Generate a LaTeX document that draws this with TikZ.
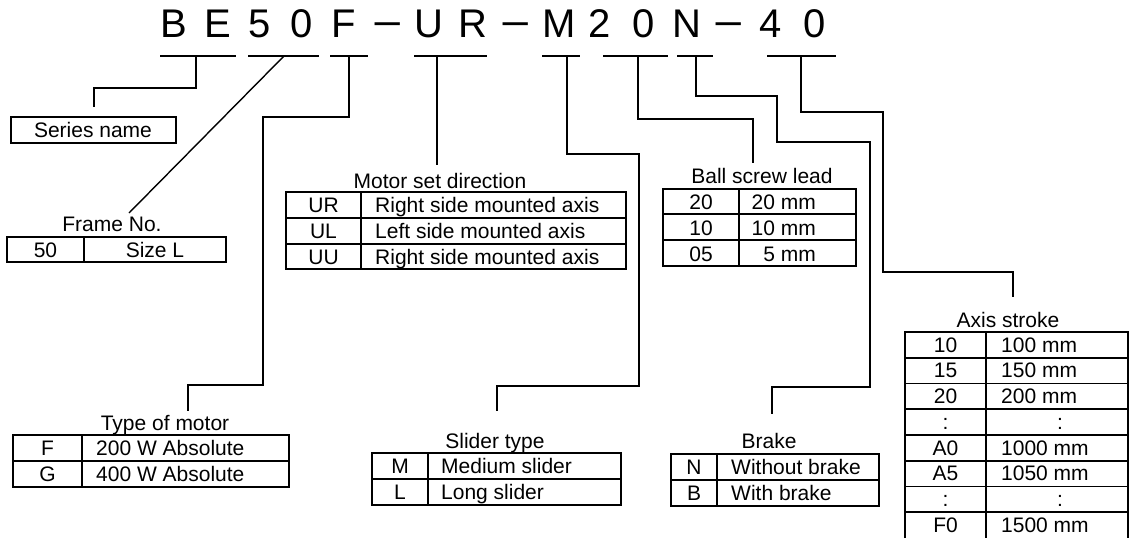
\documentclass[tikz,border=0pt]{standalone}
\usepackage{fontspec}
\setmainfont{Liberation Sans}
\begin{document}
\begin{tikzpicture}[x=1pt,y=-1pt,
 conn/.style={line width=1.4pt},
 tbl/.style={line width=1.8pt},
 ul/.style={line width=1.6pt},
 txt/.style={font=\fontsize{21}{25}\selectfont,inner sep=0pt,anchor=base},
 txtl/.style={txt,anchor=base west},
 txtr/.style={txt,anchor=base east},
 ttl/.style={font=\fontsize{40}{48}\selectfont,inner sep=0pt,anchor=base}]
\useasboundingbox (0,0) rectangle (1134,538);

% ---- title ----
\node[ttl] (t1) at (174,37) {B};
\node[ttl] (t2) at (217.5,37) {E};
\node[ttl] (t3) at (259.5,37) {5};
\node[ttl] (t4) at (301.5,37) {0};
\node[ttl] (t5) at (344,37) {F};
\node[ttl] (t6) at (388,37) {\scalebox{1.3}[1]{−}};
\node[ttl] (t7) at (428.5,37) {U};
\node[ttl] (t8) at (473,37) {R};
\node[ttl] (t9) at (516,37) {\scalebox{1.3}[1]{−}};
\node[ttl] (t10) at (559.5,37) {M};
\node[ttl] (t11) at (600,37) {2};
\node[ttl] (t12) at (643.5,37) {0};
\node[ttl] (t13) at (686.5,37) {N};
\node[ttl] (t14) at (729,37) {\scalebox{1.3}[1]{−}};
\node[ttl] (t15) at (771,37) {4};
\node[ttl] (t16) at (814.5,37) {0};

% ---- underlines ----
\draw[ul] (160,56) -- (236,56);
\draw[ul] (248,56) -- (319,56);
\draw[ul] (330,56) -- (368,56);
\draw[ul] (414,56) -- (487,56);
\draw[ul] (542,56) -- (580,56);
\draw[ul] (603,56) -- (668,56);
\draw[ul] (677,56) -- (713,56);
\draw[ul] (767,56) -- (836,56);

% ---- connector coordinates ----
\coordinate (c1) at (196,56);
\coordinate (c2) at (284,56);
\coordinate (c3) at (349,56);
\coordinate (c4) at (437,56);
\coordinate (c5) at (567,56);
\coordinate (c6) at (638,56);
\coordinate (c7) at (696,56);
\coordinate (c8) at (801,56);
\coordinate (e1) at (94,107);
\coordinate (e2) at (129,213);
\coordinate (e3) at (188,411);
\coordinate (e4) at (437,165);
\coordinate (e5) at (497,411);
\coordinate (e6) at (753,163);
\coordinate (e7) at (772,414);
\coordinate (e8) at (1013,297);

\draw[conn] (c1) -- (196,88) -- (94,88) -- (e1);
\draw[conn] (c2) -- (e2);
\draw[conn] (c3) -- (349,117) -- (263,117) -- (263,385) -- (188,385) -- (e3);
\draw[conn] (c4) -- (e4);
\draw[conn] (c5) -- (567,154) -- (639,154) -- (639,386) -- (497,386) -- (e5);
\draw[conn] (c6) -- (638,119) -- (753,119) -- (e6);
\draw[conn] (c7) -- (696,96) -- (777,96) -- (777,142) -- (870,142) -- (870,387) -- (772,387) -- (e7);
\draw[conn] (c8) -- (801,112) -- (883,112) -- (883,272) -- (1013,272) -- (e8);

% ---- Series name ----
\draw[tbl] (11,117) rectangle (176,143);
\node[txt] (series) at (93,137) {Series name};

% ---- Frame No. ----
\node[txt] (framelbl) at (112,231) {Frame No.};
\draw[tbl] (7,237) rectangle (226,262);
\draw[tbl] (84,237) -- (84,262);
\node[txt] (f50) at (45.5,257) {50};
\node[txt] (fsize) at (155,257) {Size L};

% ---- Motor set direction ----
\node[txt] (motorlbl) at (440,188) {Motor set direction};
\draw[tbl] (286,192) rectangle (626,269);
\draw[tbl] (286,218) -- (626,218);
\draw[tbl] (286,244) -- (626,244);
\draw[tbl] (361,192) -- (361,269);
\node[txt] (mUR) at (323.5,212) {UR};
\node[txtl] (mURt) at (375,212) {Right side mounted axis};
\node[txt] (mUL) at (323.5,238) {UL};
\node[txtl] (mULt) at (375,238) {Left side mounted axis};
\node[txt] (mUU) at (323.5,264) {UU};
\node[txtl] (mUUt) at (375,264) {Right side mounted axis};

% ---- Ball screw lead ----
\node[txt] (balllbl) at (762,183) {Ball screw lead};
\draw[tbl] (663,189) rectangle (856,266);
\draw[tbl] (663,214) -- (856,214);
\draw[tbl] (663,240) -- (856,240);
\draw[tbl] (739,189) -- (739,266);
\node[txt] (b20) at (701,209) {20};
\node[txtr] (b20t) at (816,209) {20 mm};
\node[txt] (b10) at (701,235) {10};
\node[txtr] (b10t) at (816,235) {10 mm};
\node[txt] (b05) at (701,261) {05};
\node[txtr] (b05t) at (816,261) {5 mm};

% ---- Axis stroke ----
\node[txt] (axislbl) at (1008,327) {Axis stroke};
\draw[tbl] (905,538) -- (905,332) -- (1128,332) -- (1128,538);
\foreach \yy in {357.75,383.5,409.25,435,460.75,486.5,512.25}
  \draw[tbl] (905,\yy) -- (1128,\yy);
\draw[tbl] (986,332) -- (986,538);
\node[txt] (a1) at (945.5,352) {10};
\node[txtl] (a1t) at (1001,352) {100 mm};
\node[txt] (a2) at (945.5,377.75) {15};
\node[txtl] (a2t) at (1001,377.75) {150 mm};
\node[txt] (a3) at (945.5,403.5) {20};
\node[txtl] (a3t) at (1001,403.5) {200 mm};
\node[txt] (a4) at (945.5,429.25) {:};
\node[txt] (a4t) at (1060,429.25) {:};
\node[txt] (a5) at (945.5,455) {A0};
\node[txtl] (a5t) at (1001,455) {1000 mm};
\node[txt] (a6) at (945.5,480.75) {A5};
\node[txtl] (a6t) at (1001,480.75) {1050 mm};
\node[txt] (a7) at (945.5,506.5) {:};
\node[txt] (a7t) at (1060,506.5) {:};
\node[txt] (a8) at (945.5,532.25) {F0};
\node[txtl] (a8t) at (1001,532.25) {1500 mm};

% ---- Type of motor ----
\node[txt] (typelbl) at (165,430) {Type of motor};
\draw[tbl] (13,435) rectangle (289,487);
\draw[tbl] (13,461) -- (289,461);
\draw[tbl] (82,435) -- (82,487);
\node[txt] (tF) at (47.5,455) {F};
\node[txtl] (tFt) at (96,455) {200 W Absolute};
\node[txt] (tG) at (47.5,481) {G};
\node[txtl] (tGt) at (96,481) {400 W Absolute};

% ---- Slider type ----
\node[txt] (sliderlbl) at (495,448) {Slider type};
\draw[tbl] (372,453) rectangle (621,505);
\draw[tbl] (372,479) -- (621,479);
\draw[tbl] (428,453) -- (428,505);
\node[txt] (sM) at (400,473) {M};
\node[txtl] (sMt) at (441,473) {Medium slider};
\node[txt] (sL) at (400,499) {L};
\node[txtl] (sLt) at (441,499) {Long slider};

% ---- Brake ----
\node[txt] (brakelbl) at (769,448) {Brake};
\draw[tbl] (671,454) rectangle (879,506);
\draw[tbl] (671,480) -- (879,480);
\draw[tbl] (717,454) -- (717,506);
\node[txt] (kN) at (694,474) {N};
\node[txtl] (kNt) at (731,474) {Without brake};
\node[txt] (kB) at (694,500) {B};
\node[txtl] (kBt) at (731,500) {With brake};
\end{tikzpicture}
\end{document}
